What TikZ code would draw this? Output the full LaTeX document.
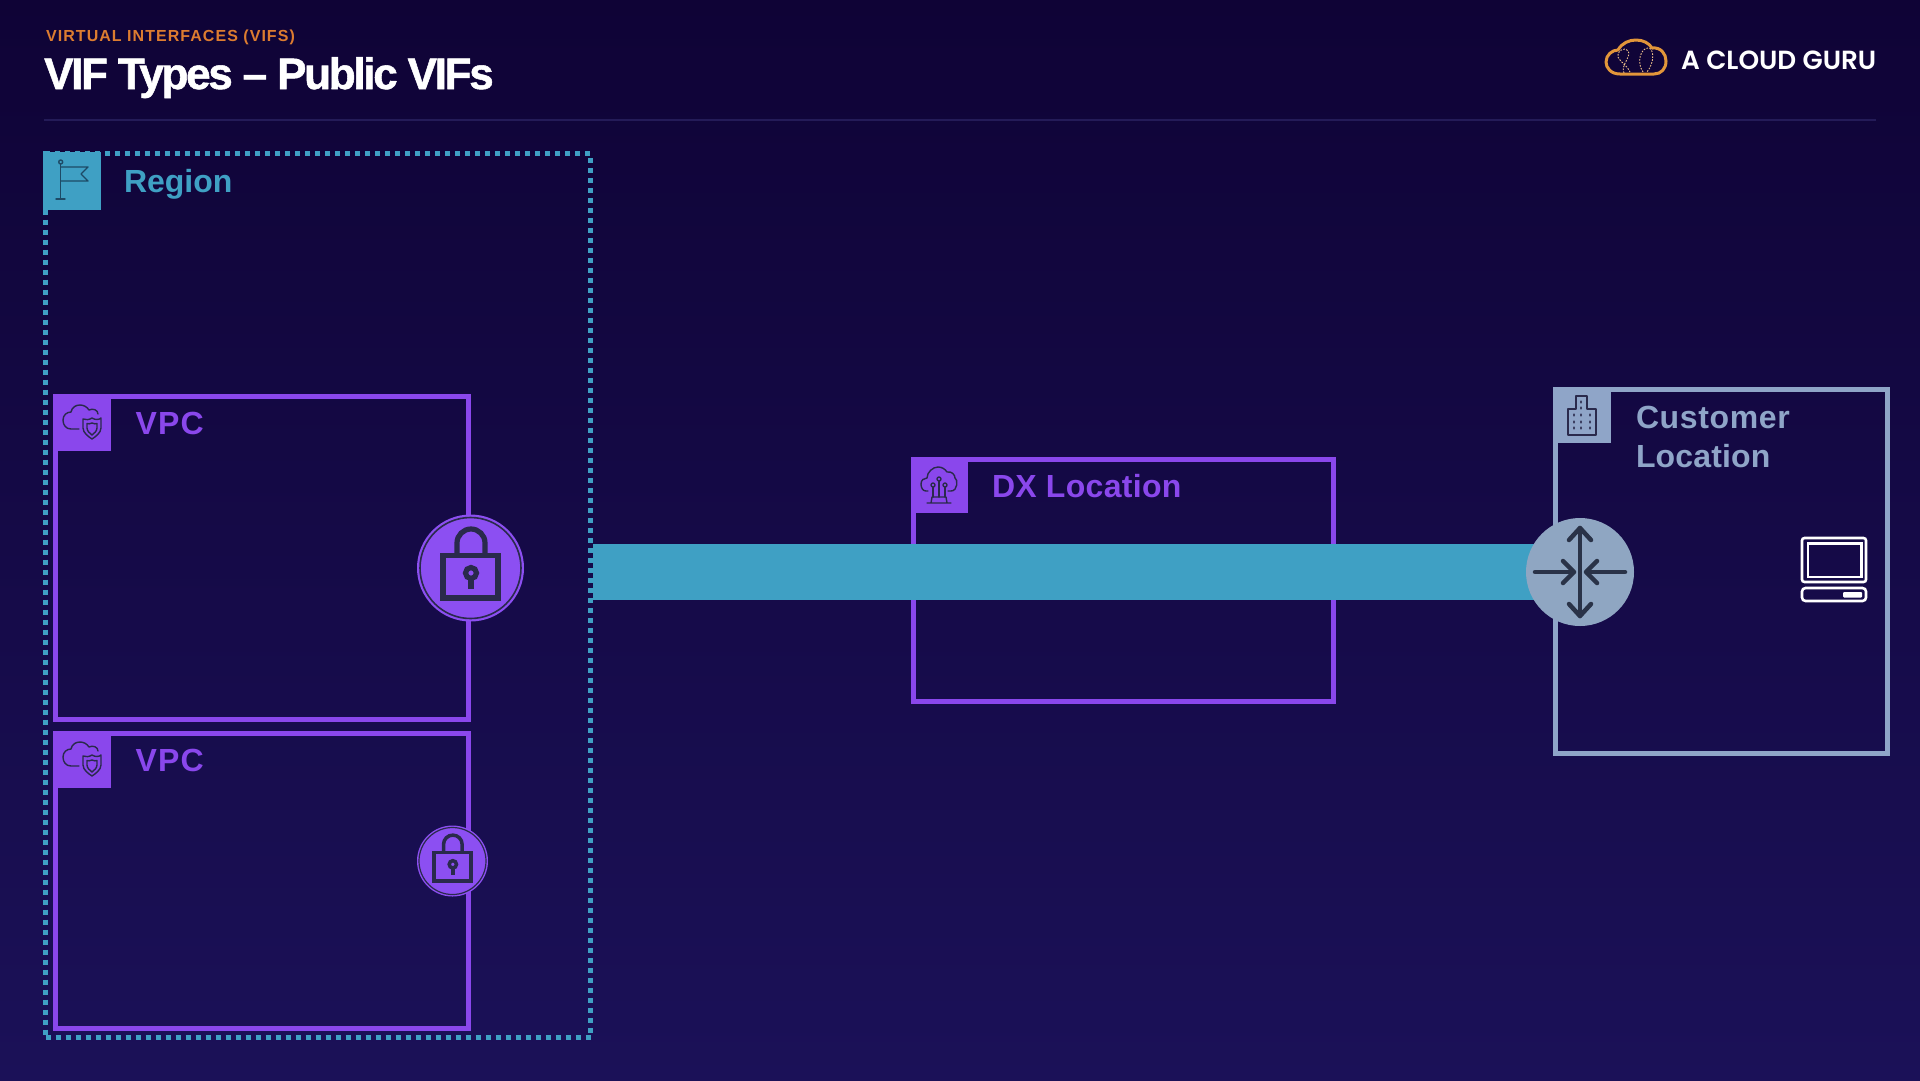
\documentclass[tikz,border=0pt]{standalone}
\usepackage{fontspec}
\setmainfont{Liberation Sans}
\newfontfamily\logofont{Poppins SemiBold}
\newfontfamily\titlefont{Liberation Sans Bold}[FakeBold=1.2,LetterSpace=-5.2]
\definecolor{bgtop}{HTML}{0F0336}
\definecolor{bgbot}{HTML}{1B1158}
\definecolor{vpurple}{HTML}{8A47EC}
\definecolor{vteal}{HTML}{3FA0C4}
\definecolor{vslate}{HTML}{8FA5C8}
\definecolor{vrouter}{HTML}{8FA6C2}
\definecolor{vorange}{HTML}{DD7C30}
\definecolor{vlogo}{HTML}{E2963A}
\definecolor{vrule}{HTML}{241B58}
\definecolor{vink}{HTML}{2A2A4C}
\definecolor{vrouterink}{HTML}{2A3348}
\definecolor{vflag}{HTML}{1D4A66}
\definecolor{vlockfill}{HTML}{8C4FF2}
\tikzset{
  x=1pt,y=-1pt,
  pbox/.style={draw=vpurple,line width=5pt,inner sep=0,outer sep=0,rectangle},
  sbox/.style={draw=vslate,line width=5pt,inner sep=0,outer sep=0,rectangle},
  rbox/.style={draw=vteal,line width=5pt,dash pattern=on 5pt off 5pt,inner sep=0,outer sep=0,rectangle},
  tagbox/.style={inner sep=0,outer sep=0,rectangle,minimum width=58pt,minimum height=57pt,anchor=north west},
  boxlabel/.style={font=\fontsize{32}{39}\selectfont\bfseries,inner sep=0,outer sep=0,anchor=base west},
  iconline/.style={draw=vink,line width=1.4pt,line join=round,line cap=round},
  bandline/.style={draw=vteal,line width=56pt},
  routerarrow/.style={draw=vrouterink,line width=4.5pt,line cap=round,line join=round},
}
\newcommand{\vpcglyph}[2]{%
  \begin{scope}[shift={(#1,#2)}]
    \draw[iconline] (26,35) -- (18,35) .. controls (13,35) and (10,31) .. (10,26) .. controls (10,21) and (14,18) .. (18,18) .. controls (19,13) and (23,11) .. (27,11) .. controls (31,11) and (34,13) .. (36,16) .. controls (40,14) and (45,16) .. (45,20);
    \draw[iconline] (39,24) .. controls (42,26) and (46,26) .. (48,24) -- (48,34) .. controls (48,39) and (42,43) .. (39,45) .. controls (36,43) and (30,39) .. (30,34) -- (30,25) .. controls (33,26) and (36,26) .. (39,24) -- cycle;
    \draw[iconline] (39,29) .. controls (41,30) and (43,30) .. (44,29.5) -- (44,34) .. controls (44,37) and (41,39.5) .. (39,41) .. controls (37,39.5) and (34,37) .. (34,34) -- (34,29.5) .. controls (35,30) and (37,30) .. (39,29) -- cycle;
  \end{scope}}
\newcommand{\lockglyph}[4]{% x y scale linewidth
  \begin{scope}[shift={(#1,#2)},scale=#3]
    \draw[line width=#4,draw=vink,line join=miter] (-27.5,-12.5) rectangle (27.5,30);
    \draw[line width=#4,draw=vink] (-13.5,-13) -- (-13.5,-25) .. controls (-13.5,-33) and (-7,-39) .. (0.5,-39) .. controls (8,-39) and (14.5,-33) .. (14.5,-25) -- (14.5,-13);
    \draw[line width=#4,draw=vink] (0.5,5) circle[radius=5.5];
    \draw[line width=#4,draw=vink] (0.5,11) -- (0.5,21);
  \end{scope}}
\begin{document}
\begin{tikzpicture}
\useasboundingbox (0,0) rectangle (1920,1080);
\shade[top color=bgtop,bottom color=bgbot] (0,0) rectangle (1920,1080);

% header
\node[font=\fontsize{16}{19}\addfontfeature{LetterSpace=6.5}\bfseries,text=vorange,inner sep=0,anchor=base west] (kicker) at (46,41) {VIRTUAL INTERFACES (VIFS)};
\node[font=\fontsize{44}{52}\titlefont,text=white,inner sep=0,anchor=base west] (title) at (44,89) {VIF Types – Public VIFs};
\draw[vrule,line width=2pt] (44,120) -- (1876,120);

% logo
\node[font=\fontsize{24}{28}\logofont,text=white,inner sep=0,anchor=base west] (logotext) at (1681,69) {\resizebox{195pt}{!}{A CLOUD GURU}};
\draw[vlogo,line width=3pt,line join=round,fill=none] (1620,74) .. controls (1611,74) and (1606,68) .. (1606,62) .. controls (1606,55) and (1612,50) .. (1618,50) .. controls (1622,43) and (1629,40) .. (1636,40) .. controls (1643,40) and (1649,43) .. (1652,48) .. controls (1661,47) and (1666,54) .. (1666,61) .. controls (1666,69) and (1661,74) .. (1654,74) -- cycle;
\draw[vlogo!60!white,line width=.9pt,dash pattern=on 1.6pt off 1.4pt] (1624,73) .. controls (1620,66) and (1632,56) .. (1628,51) .. controls (1624,46) and (1616,52) .. (1618,57) .. controls (1620,62) and (1628,66) .. (1630,72);
\draw[vlogo!60!white,line width=.9pt,dash pattern=on 1.6pt off 1.4pt] (1643,72) .. controls (1636,62) and (1641,48) .. (1648,48) .. controls (1654,48) and (1655,62) .. (1647,72);

% region
\node[rbox,minimum width=545pt,minimum height=884pt,anchor=north west] (region) at (45.5,153.5) {};
\node[tagbox,minimum width=58pt,minimum height=58pt,fill=vteal] (regiontag) at (43,151.5) {};
\node[boxlabel,text=vteal] (regionlabel) at (124,192) {Region};
\draw[iconline,draw=vflag] (60.7,164) -- (60.7,199) (56,199) -- (65,199);
\draw[iconline,draw=vflag] (60.7,162) circle[radius=2];
\draw[iconline,draw=vflag] (60.7,167) -- (88,167) -- (81,174) -- (88,181) -- (60.7,181);

% VPCs
\node[pbox,minimum width=413pt,minimum height=323pt,anchor=north west] (vpca) at (55.5,396.5) {};
\node[tagbox,fill=vpurple] (vpcatag) at (53,394) {};
\node[boxlabel,text=vpurple] (vpcalabel) at (135.5,434) {\addfontfeature{LetterSpace=4}VPC};
\vpcglyph{53}{394}
\node[pbox,minimum width=413pt,minimum height=295.5pt,anchor=north west] (vpcb) at (55.5,733) {};
\node[tagbox,fill=vpurple] (vpcbtag) at (53,731) {};
\node[boxlabel,text=vpurple] (vpcblabel) at (135.5,771) {\addfontfeature{LetterSpace=4}VPC};
\vpcglyph{53}{731}

% DX
\node[pbox,minimum width=420pt,minimum height=242pt,anchor=north west] (dx) at (913.5,459.5) {};
\node[tagbox,minimum height=56pt,minimum width=57pt,fill=vpurple] (dxtag) at (911,457) {};
\node[boxlabel,text=vpurple] (dxlabel) at (992,497) {\addfontfeature{LetterSpace=1}DX Location};
\draw[iconline] (928,491) -- (926,491) .. controls (923,491) and (921,488) .. (921,484) .. controls (921,480) and (924,478) .. (927,478) .. controls (927,472) and (933,467) .. (938,467) .. controls (942,467) and (945,469) .. (947,472) .. controls (952,471) and (955,475) .. (955,478) .. controls (958,479) and (958,491) .. (951,491) -- (948,491);
\draw[iconline] (933,487) -- (933,497) (939,481) -- (939,497) (945,487) -- (945,497);
\draw[iconline] (933,485) circle[radius=2] (939,479) circle[radius=2] (945,485) circle[radius=2];
\draw[iconline] (932,497) -- (946,497) -- (947,503) -- (931,503) -- cycle (927,503) -- (951,503);

% customer
\node[sbox,minimum width=332pt,minimum height=364pt,anchor=north west] (cust) at (1555.5,389.5) {};
\node[tagbox,minimum height=56pt,fill=vslate] (custtag) at (1553,387) {};
\node[boxlabel,text=vslate] (custlabela) at (1636,428) {\addfontfeature{LetterSpace=2}Customer};
\node[boxlabel,text=vslate] (custlabelb) at (1636,467) {\addfontfeature{LetterSpace=0.5}Location};
\draw[iconline,line width=1.6pt] (1576,409) -- (1576,396) -- (1587,396) -- (1587,409) -- (1596,409) -- (1596,435) -- (1568,435) -- (1568,409) -- cycle;
\foreach \wy in {402,408,415,422,428}{ \fill[vink] (1581,\wy) ellipse[x radius=1,y radius=1.8]; }
\foreach \wy in {415,422,428}{ \fill[vink] (1574,\wy) ellipse[x radius=1,y radius=1.8]; \fill[vink] (1590,\wy) ellipse[x radius=1,y radius=1.8]; }

% band and router
\coordinate (bandstart) at (593,572);
\node[circle,minimum size=108pt,inner sep=0,outer sep=0] (router) at (1580,572) {};
\draw[bandline] (bandstart) -- (router.center);
\fill[vrouter] (router.center) circle[radius=54];
\draw[routerarrow] (1580,528) -- (1580,616);
\draw[routerarrow] (1569,540) -- (1580,528) -- (1591,540);
\draw[routerarrow] (1569,604) -- (1580,616) -- (1591,604);
\draw[routerarrow] (1535,572) -- (1573,572);
\draw[routerarrow] (1563,561) -- (1574,572) -- (1563,583);
\draw[routerarrow] (1625,572) -- (1587,572);
\draw[routerarrow] (1597,561) -- (1586,572) -- (1597,583);

% laptop
\draw[white,line width=2.6pt,rounded corners=2.5pt] (1802,538) rectangle (1866,582);
\draw[white,line width=2.2pt] (1808,543.5) rectangle (1861.5,577);
\draw[white,line width=2.6pt,rounded corners=3.5pt] (1802,588) rectangle (1866,601);
\fill[white,rounded corners=1pt] (1843,592) rectangle (1862,597.5);

% locks
\node[circle,fill=vlockfill,minimum size=107pt,inner sep=0,outer sep=0] (locka) at (470.5,568) {};
\node[circle,draw=vink,line width=1.6pt,minimum size=101pt,inner sep=0,outer sep=0] (lockaring) at (470.5,568) {};
\lockglyph{470.5}{568}{1}{5.2pt}
\node[circle,fill=vlockfill,minimum size=71pt,inner sep=0,outer sep=0] (lockb) at (452.5,861) {};
\node[circle,draw=vink,line width=1.2pt,minimum size=67pt,inner sep=0,outer sep=0] (lockbring) at (452.5,861) {};
\lockglyph{452.5}{861}{0.664}{3.5pt}
\end{tikzpicture}
\end{document}
